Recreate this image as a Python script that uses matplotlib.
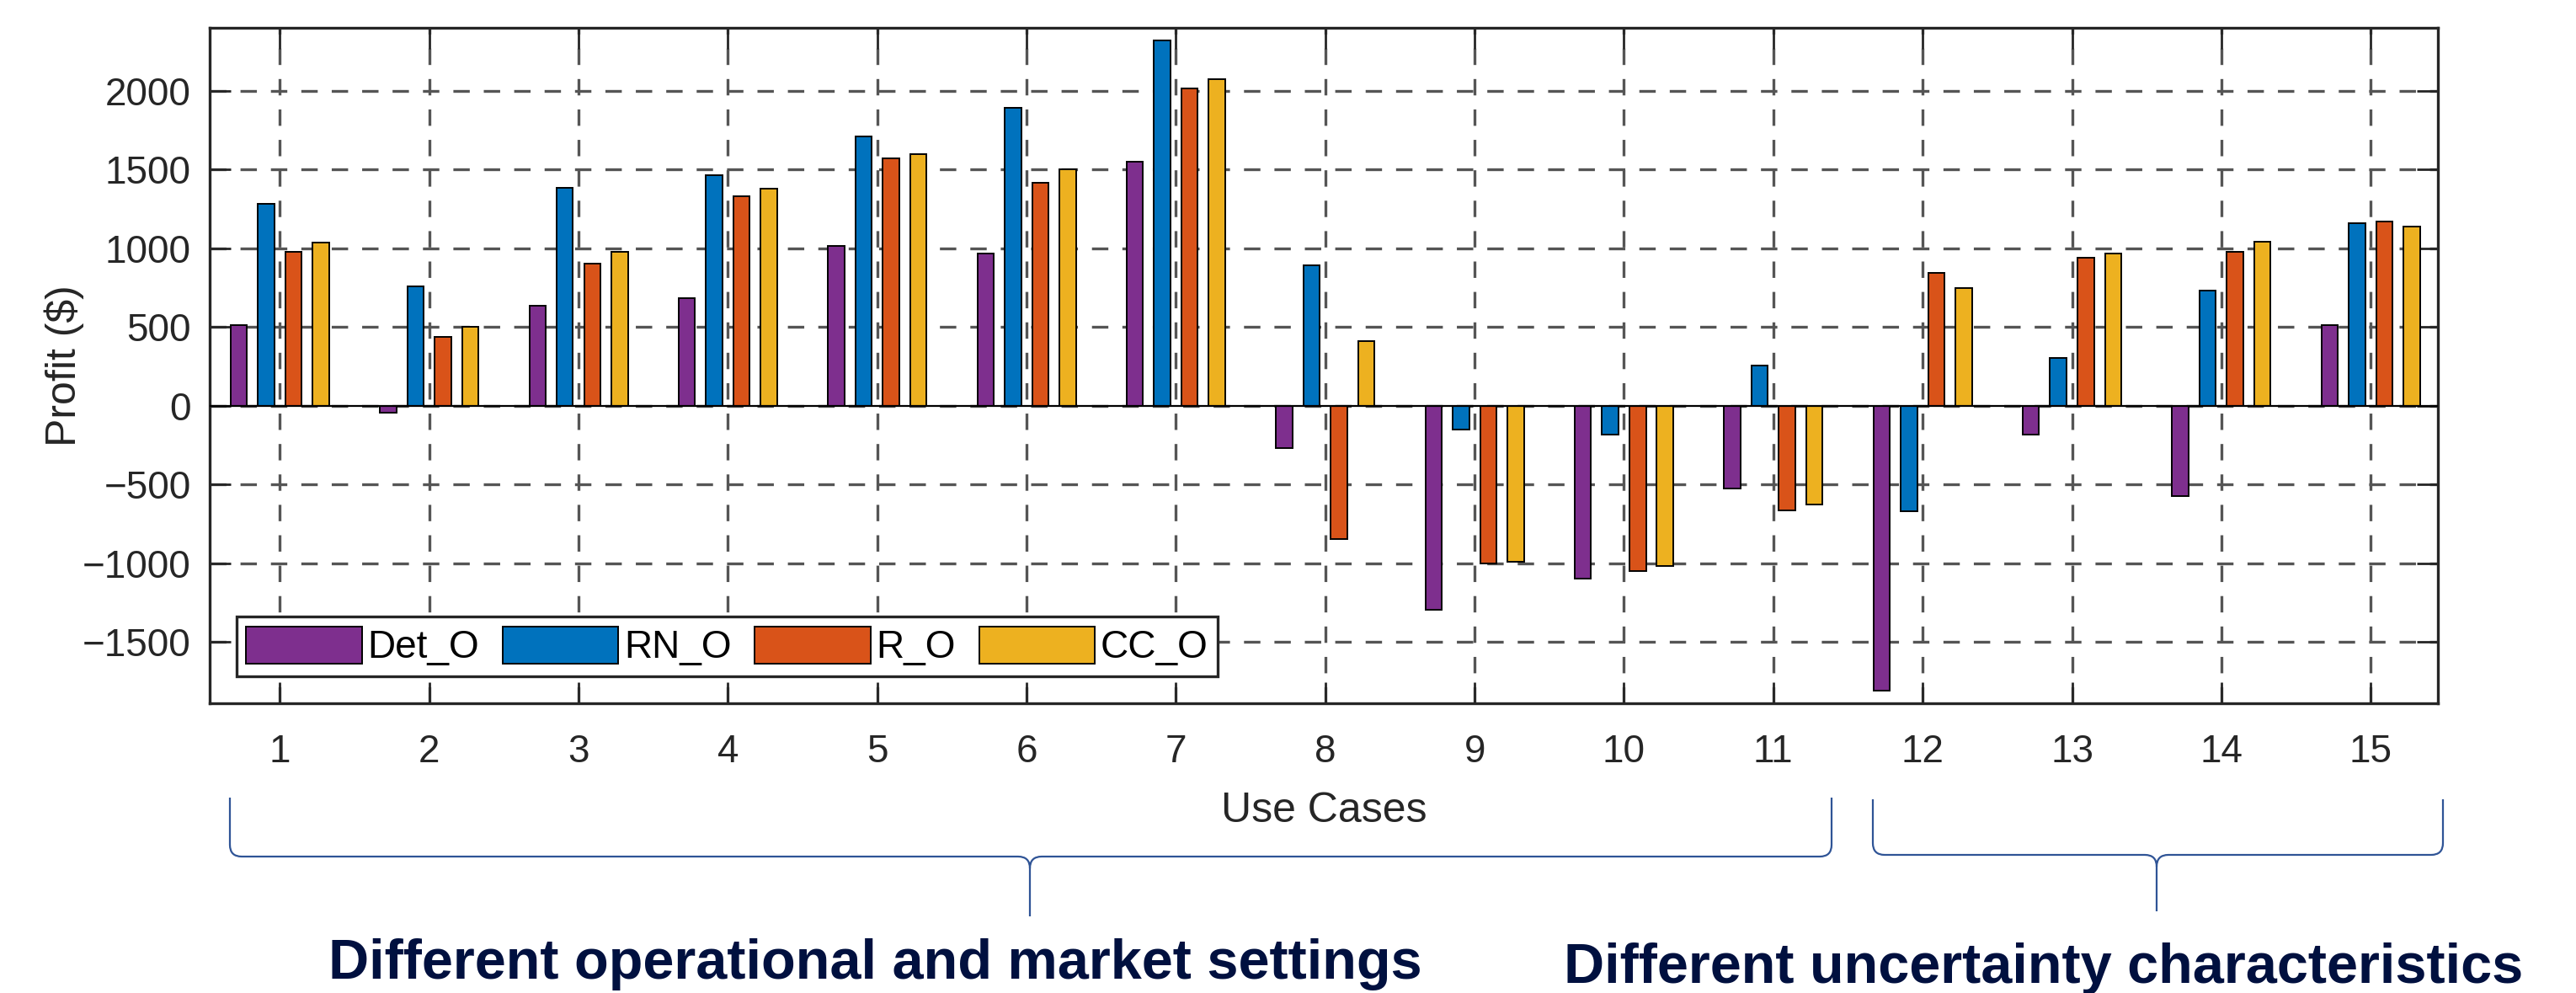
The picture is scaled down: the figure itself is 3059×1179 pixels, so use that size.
import numpy as np
import matplotlib
matplotlib.use('Agg')
import matplotlib.pyplot as plt
from matplotlib.path import Path
from matplotlib.patches import PathPatch

plt.rcParams['font.family'] = ['Liberation Sans', 'DejaVu Sans']
plt.rcParams['lines.scale_dashes'] = False

# data
cases = np.arange(1, 16)
series = ['Det_O', 'RN_O', 'R_O', 'CC_O']
det_o = [510, -46, 636, 684, 1013, 964, 1551, -269, -1297, -1101, -525, -1809, -186, -574, 510]
rn_o = [1281, 756, 1381, 1465, 1709, 1893, 2318, 892, -150, -186, 255, -673, 305, 733, 1158]
r_o = [978, 439, 903, 1331, 1572, 1417, 2013, -846, -1003, -1051, -664, 844, 942, 978, 1171]
cc_o = [1037, 501, 978, 1380, 1599, 1501, 2073, 412, -989, -1016, -626, 746, 965, 1040, 1135]
colors = ['#7E2F8E', '#0072BD', '#D95319', '#EDB120']

groups = ['Different operational and market settings', 'Different uncertainty characteristics']

W, H, DPI = 3059, 1179, 200
fig = plt.figure(figsize=(W / DPI, H / DPI), dpi=DPI)
ax = fig.add_axes([249 / W, 1 - 835 / H, (2895 - 249) / W, (835 - 33) / H])

offsets = [-0.275, -0.092, 0.092, 0.275]
for vals, off, c, lab in zip([det_o, rn_o, r_o, cc_o], offsets, colors, series):
    ax.bar(cases + off, vals, width=0.11, color=c, edgecolor='black', linewidth=0.7, label=lab, zorder=3)

ax.axhline(0, color='black', linewidth=0.8, zorder=4)
ax.set_xlim(0.53, 15.45)
ax.set_ylim(-1890, 2400)
ax.set_xticks(cases)
ax.set_yticks(np.arange(-1500, 2001, 500))
ax.set_axisbelow(True)
ax.grid(True, color='#555555', linewidth=1.2, linestyle=(0, (7, 6)))
ax.tick_params(direction='in', length=9, width=1.0, top=True, right=True,
               labelsize=16.5, colors='#262626')
ax.tick_params(axis='x', pad=13)
ax.tick_params(axis='y', pad=8)
for s in ax.spines.values():
    s.set_linewidth(1.2)
    s.set_color('#262626')

ax.set_xlabel('Use Cases', fontsize=18, color='#262626', labelpad=9)
ax.set_ylabel('Profit ($)', fontsize=18, color='#262626')
ax.yaxis.set_label_coords(-0.0563, 0.5)

leg = ax.legend(loc='lower left', bbox_to_anchor=(0.012, 0.040), borderaxespad=0,
                ncol=4, fontsize=16.5, handlelength=3.0, handleheight=1.1,
                handletextpad=0.15, columnspacing=0.6, borderpad=0.25,
                fancybox=False, framealpha=1, edgecolor='#262626')
leg.get_frame().set_linewidth(1.2)


def brace(x0, x1, xtip, ytop, yline, ytip, r=14):
    # pixel coords from top-left, converted to inches for dpi_scale_trans
    def p(x, y):
        return (x / DPI, (H - y) / DPI)
    verts = [p(x0, ytop), p(x0, yline - r), p(x0, yline), p(x0 + r, yline),
             p(xtip - r, yline), p(xtip, yline), p(xtip, yline + r), p(xtip, ytip),
             p(xtip, yline + r), p(xtip, yline), p(xtip + r, yline),
             p(x1 - r, yline), p(x1, yline), p(x1, yline - r), p(x1, ytop)]
    codes = [Path.MOVETO, Path.LINETO, Path.CURVE3, Path.CURVE3,
             Path.LINETO, Path.CURVE3, Path.CURVE3, Path.LINETO,
             Path.MOVETO, Path.CURVE3, Path.CURVE3,
             Path.LINETO, Path.CURVE3, Path.CURVE3, Path.LINETO]
    fig.add_artist(PathPatch(Path(verts, codes), facecolor='none', edgecolor='#2F5496',
                             linewidth=0.8, transform=fig.dpi_scale_trans))


brace(273, 2175, 1223, 947, 1017, 1088)
brace(2224, 2901, 2561, 949, 1015, 1082)

fig.text(390 / W, 1 - 1162 / H, groups[0], fontsize=24, fontweight='bold',
         color='#00103F', ha='left', va='baseline')
fig.text(1857 / W, 1 - 1167 / H, groups[1], fontsize=24, fontweight='bold',
         color='#00103F', ha='left', va='baseline')

fig.savefig('out.png', dpi=DPI, facecolor='white')
